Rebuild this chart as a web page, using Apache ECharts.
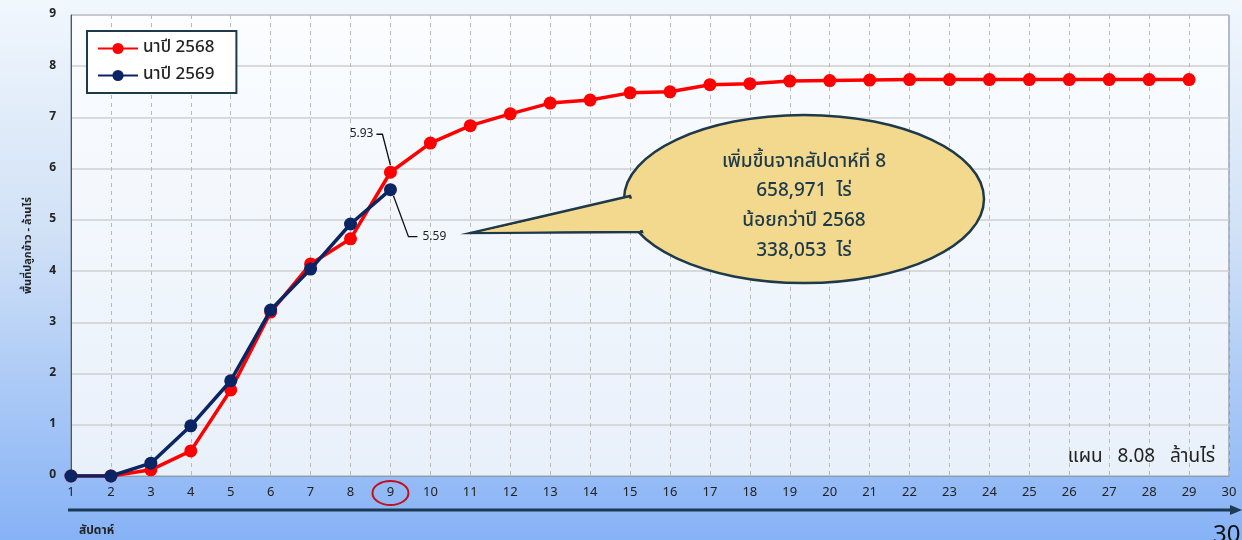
<!DOCTYPE html>
<html><head><meta charset="utf-8">
<style>html,body{margin:0;padding:0;}#c{width:1242px;height:540px;}</style>
<script src="https://cdn.jsdelivr.net/npm/echarts@6/dist/echarts.min.js"></script>
</head><body><div id="c"></div>
<script>
const weeks = ['1','2','3','4','5','6','7','8','9','10','11','12','13','14','15','16','17','18','19','20','21','22','23','24','25','26','27','28','29','30'];
const rice2568 = [0,0,0.12,0.49,1.68,3.2,4.14,4.63,5.93,6.5,6.84,7.07,7.28,7.34,7.48,7.5,7.64,7.66,7.71,7.72,7.73,7.74,7.74,7.74,7.74,7.74,7.74,7.74,7.74];
const rice2569 = [0,0,0.25,0.98,1.86,3.24,4.04,4.92,5.59];
const yTicks = [0,1,2,3,4,5,6,7,8,9];
const calloutLines = ['เพิ่มขึ้นจากสัปดาห์ที่ 8','658,971  ไร่','น้อยกว่าปี 2568','338,053  ไร่'];
const planText = 'แผน   8.08   ล้านไร่';
const FONT = '"Noto Sans Thai","Noto Sans","DejaVu Sans",sans-serif';

const chart = echarts.init(document.getElementById('c'));
const option = {
  animation:false,
  backgroundColor:{type:'linear',x:0,y:0,x2:0,y2:1,colorStops:[{offset:0,color:'#f1f7fd'},{offset:0.45,color:'#cfe0f6'},{offset:1,color:'#86b2f6'}]},
  textStyle:{fontFamily:FONT},
  grid:{left:71,right:13,top:15,bottom:64,show:true,borderColor:'#6f7f8f',borderWidth:1,
    backgroundColor:{type:'linear',x:0,y:0,x2:0,y2:1,colorStops:[{offset:0,color:'#fbfdff'},{offset:1,color:'#e8f0fa'}]}},
  legend:{left:87,top:31,orient:'vertical',itemWidth:40,itemHeight:14,itemGap:10,
    backgroundColor:'#ffffff',borderColor:'#1e3a4a',borderWidth:2,padding:[9,22,9,10],
    textStyle:{fontSize:17,color:'#222',fontFamily:FONT,fontWeight:500},
    data:['นาปี 2568','นาปี 2569']},
  xAxis:{type:'category',data:weeks,boundaryGap:false,
    axisLine:{show:true,lineStyle:{color:'#8a9cb0',width:1}},axisTick:{show:false},
    axisLabel:{interval:0,margin:11,fontSize:13,color:'#222'},
    splitLine:{show:true,interval:0,lineStyle:{color:'#b9b9b9',type:[4,4],width:1}},
    name:'สัปดาห์',nameLocation:'start',nameGap:0,
    nameTextStyle:{fontSize:12,fontWeight:'bold',color:'#222',align:'left',verticalAlign:'top',padding:[50,0,0,8]}},
  yAxis:{type:'value',min:0,max:9,interval:1,
    axisLine:{show:true,lineStyle:{color:'#555',width:1}},axisTick:{show:false},
    axisLabel:{margin:15,fontSize:12,color:'#222',fontWeight:'bold'},
    splitLine:{lineStyle:{color:'#cfcfcf',width:1.5}},
    name:'พื้นที่ปลูกข้าว - ล้านไร่',nameLocation:'middle',nameGap:37,
    nameTextStyle:{fontSize:11,fontWeight:'bold',color:'#222'}},
  series:[
    {name:'นาปี 2568',type:'line',data:rice2568,symbol:'circle',symbolSize:13,z:3,
      itemStyle:{color:'#ff0000'},lineStyle:{color:'#ff0000',width:3.5}},
    {name:'นาปี 2569',type:'line',data:rice2569,symbol:'circle',symbolSize:13,z:4,
      itemStyle:{color:'#0b2463'},lineStyle:{color:'#0b2463',width:3.5}}
  ]
};
chart.setOption(option);

const p93 = chart.convertToPixel({seriesIndex:0},[8,rice2568[8]]);
const p59 = chart.convertToPixel({seriesIndex:1},[8,rice2569[8]]);
const lab9 = chart.convertToPixel({xAxisIndex:0},8);
const cx=804, cy=199, rx=180, ry=84;
chart.setOption({graphic:[
  {type:'polyline',shape:{points:[[p93[0],p93[1]-7],[p93[0]-8,p93[1]-38],[p93[0]-14,p93[1]-38]]},style:{stroke:'#111',lineWidth:1.3,fill:null},z:10},
  {type:'text',x:p93[0]-17,y:p93[1]-38,style:{text:rice2568[8].toFixed(2),fontSize:12,fill:'#222',align:'right',verticalAlign:'middle',fontFamily:FONT},z:10},
  {type:'polyline',shape:{points:[[p59[0]+3,p59[1]+6],[p59[0]+18,p59[1]+47],[p59[0]+27,p59[1]+47]]},style:{stroke:'#111',lineWidth:1.3,fill:null},z:10},
  {type:'text',x:p59[0]+32,y:p59[1]+48,style:{text:rice2569[8].toFixed(2),fontSize:12,fill:'#222',align:'left',verticalAlign:'middle',fontFamily:FONT},z:10},
  {type:'ellipse',shape:{cx:lab9,cy:493,rx:18,ry:12},style:{stroke:'#c0101a',lineWidth:2,fill:null},z:10},
  {type:'line',shape:{x1:68,y1:510,x2:1232,y2:510},style:{stroke:'#1c3a55',lineWidth:3},z:10},
  {type:'polygon',shape:{points:[[1242,510],[1230,505],[1230,515]]},style:{fill:'#1c3a55'},z:10},
  {type:'text',x:1213,y:537,style:{text:'30',fontSize:24,fill:'#111',align:'left',verticalAlign:'middle',fontFamily:FONT},z:10},
  {type:'ellipse',shape:{cx:cx,cy:cy,rx:rx,ry:ry},style:{fill:'#f2d98e',stroke:'#1e3a4a',lineWidth:2.5},z:20},
  {type:'polygon',shape:{points:[[630,196],[471,233],[642,232]]},style:{fill:'#f2d98e',stroke:'#1e3a4a',lineWidth:2.5},z:21},
  {type:'polygon',shape:{points:[[634,198],[480,232],[648,230]]},style:{fill:'#f2d98e'},z:22},
  {type:'text',x:cx,y:163,style:{text:calloutLines[0],fontSize:19,fontWeight:500,fill:'#1e3a4a',align:'center',verticalAlign:'middle',fontFamily:FONT},z:23},
  {type:'text',x:cx,y:192,style:{text:calloutLines[1],fontSize:19,fontWeight:500,fill:'#1e3a4a',align:'center',verticalAlign:'middle',fontFamily:FONT},z:23},
  {type:'text',x:cx,y:222,style:{text:calloutLines[2],fontSize:19,fontWeight:500,fill:'#1e3a4a',align:'center',verticalAlign:'middle',fontFamily:FONT},z:23},
  {type:'text',x:cx,y:252,style:{text:calloutLines[3],fontSize:19,fontWeight:500,fill:'#1e3a4a',align:'center',verticalAlign:'middle',fontFamily:FONT},z:23},
  {type:'text',x:1215,y:458,style:{text:planText,fontSize:19,fill:'#222',align:'right',verticalAlign:'middle',fontFamily:FONT},z:23}
]});
</script></body></html>
